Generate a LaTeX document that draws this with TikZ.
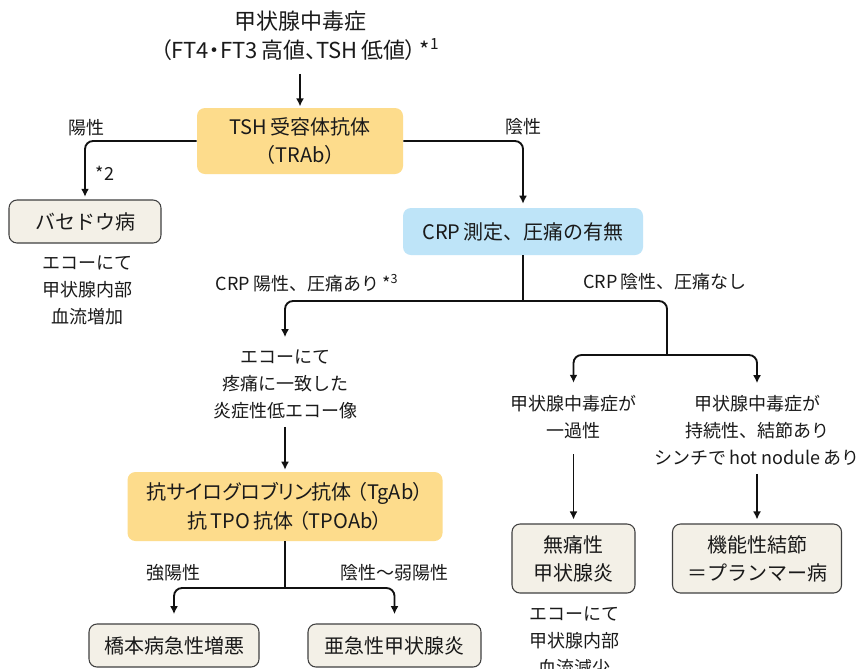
\documentclass[tikz,border=0pt]{standalone}
\usepackage{fontspec}
\setmainfont{Noto Sans CJK JP}
\newfontfamily\pfont{Noto Sans CJK JP}[RawFeature=+palt]
\usetikzlibrary{arrows.meta}
\definecolor{ylw}{HTML}{FDDC8C}
\definecolor{blu}{HTML}{BEE4F8}
\definecolor{gry}{HTML}{F3F0E7}
\definecolor{txt}{HTML}{1A1A1A}
\definecolor{lnc}{HTML}{111111}
\begin{document}
\begin{tikzpicture}[x=0.75pt,y=-0.75pt,
  box/.style={rounded corners=6pt, align=center, inner sep=0pt, text=txt,
    font=\fontsize{15}{21}\selectfont},
  ybox/.style={box, fill=ylw},
  bbox/.style={box, fill=blu},
  gbox/.style={box, fill=gry, draw=black!75, line width=0.8pt},
  lbl/.style={align=center, inner sep=0pt, text=txt,
    font=\fontsize{13.5}{20.25}\selectfont},
  ln/.style={line width=1.4pt, draw=lnc, rounded corners=6pt},
  arr/.style={ln, -{Latex[length=6pt,width=6pt]}}
]
\useasboundingbox (0,0) rectangle (859,668);
\fill[white] (0,0) rectangle (859,668);

% title
\node[lbl, font=\pfont\fontsize{16.5}{21.75}\selectfont] (title) at (300,35.5)
  {甲状腺中毒症\\（FT4・FT3\,高値、TSH\,低値）\,*\textsuperscript{1}};

\node[ybox, minimum width=206*0.75pt, minimum height=66*0.75pt] (tsh) at (300,141)
  {TSH\,受容体抗体\\（TRAb）};

\node[lbl] (yo) at (86,128) {陽性};
\node[lbl] (n2) at (105,173) {*2};
\node[lbl] (in) at (523,127) {陰性};

\node[gbox, minimum width=152*0.75pt, minimum height=43*0.75pt] (bas) at (85,221.5) {バセドウ病};
\node[lbl] (basnote) at (87,290) {エコーにて\\甲状腺内部\\血流増加};

\node[bbox, minimum width=240*0.75pt, minimum height=47*0.75pt] (crp) at (523,231.5)
  {CRP\,測定、圧痛の有無};

\node[lbl] (crpp) at (307,283) {CRP\,陽性、圧痛あり\,*\textsuperscript{3}};
\node[lbl] (crpn) at (665,282) {CRP\,陰性、圧痛なし};

\node[lbl] (echo1) at (285,384) {エコーにて\\疼痛に一致した\\炎症性低エコー像};

\node[ybox, minimum width=315*0.75pt, minimum height=69*0.75pt,
  font=\pfont\fontsize{15}{21.75}\selectfont] (ab) at (285,506.5)
  {抗サイログロブリン抗体\hspace{4pt}（TgAb）\\抗\,TPO\,抗体\hspace{4pt}（TPOAb）};

\node[lbl] (strong) at (173,573) {強陽性};
\node[lbl] (weak) at (394,573) {陰性〜弱陽性};
\node[gbox, minimum width=170*0.75pt, minimum height=43*0.75pt] (hashi) at (174,645.5) {橋本病急性増悪};
\node[gbox, minimum width=173*0.75pt, minimum height=43*0.75pt] (sub) at (394.5,645.5) {亜急性甲状腺炎};

\node[lbl] (trans) at (573.5,417.5) {甲状腺中毒症が\\一過性};
\node[lbl] (pers) at (757,430.5) {甲状腺中毒症が\\持続性、結節あり\\シンチで\,hot nodule\,あり};
\node[gbox, minimum width=123*0.75pt, minimum height=69*0.75pt] (mut) at (573.5,558.5) {無痛性\\甲状腺炎};
\node[gbox, minimum width=169*0.75pt, minimum height=69*0.75pt] (kino) at (757,558.5) {機能性結節\\＝プランマー病};
\node[lbl] (mutnote) at (574,641) {エコーにて\\甲状腺内部\\血流減少};

% junctions
\coordinate (j1) at (523,301);
\coordinate (j2) at (667,355);
\coordinate (j3) at (285,588);

% connectors
\draw[arr, shorten <=10pt, shorten >=1pt] (title) -- (tsh);
\draw[arr, shorten >=2pt] (tsh.west) -| (bas.north);
\draw[arr, shorten >=3pt] (tsh.east) -| (crp.north);
\draw[ln] (crp.south) -- (j1);
\draw[arr, shorten >=9pt] (j1) -| (echo1.north);
\draw[ln] (j1) -| (j2);
\draw[arr, shorten >=9.5pt] (j2) -| (trans.north);
\draw[arr, shorten >=9pt] (j2) -| (pers.north);
\draw[arr, shorten <=6pt, shorten >=1.5pt] (echo1) -- (ab);
\draw[arr, shorten <=11pt, shorten >=3pt] (trans) -- (mut);
\draw[arr, shorten <=6pt, shorten >=3pt] (pers) -- (kino);
\draw[ln] (ab.south) -- (j3);
\draw[arr, shorten >=7pt] (j3) -| (hashi.north);
\draw[arr, shorten >=7pt] (j3) -| (sub.north);
\end{tikzpicture}
\end{document}
